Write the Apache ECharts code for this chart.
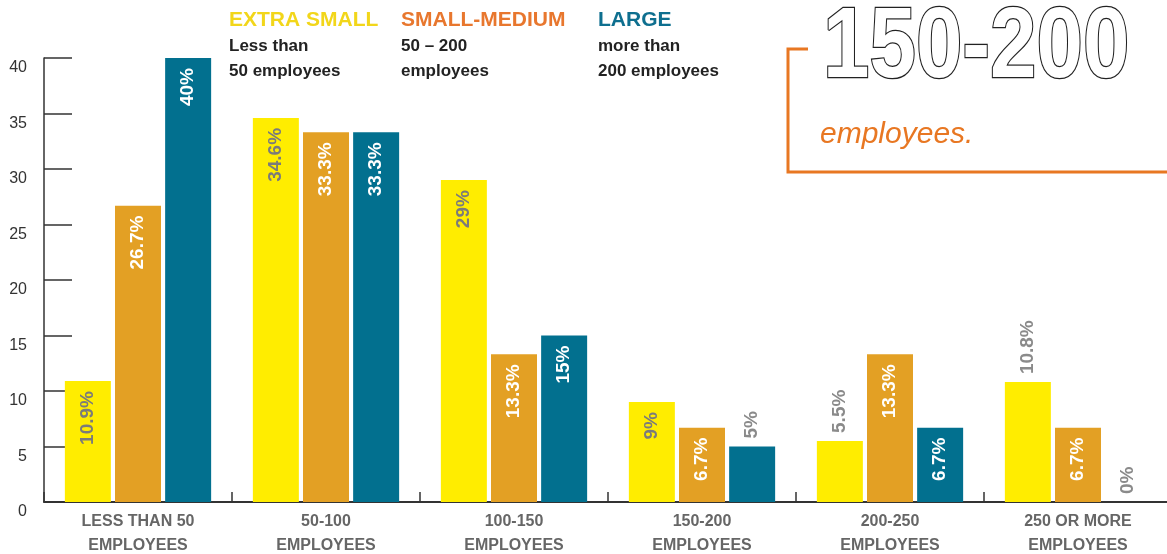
<!DOCTYPE html>
<html>
<head>
<meta charset="utf-8">
<script src="https://cdn.jsdelivr.net/npm/echarts@6/dist/echarts.min.js"></script>
<style>
html,body{margin:0;padding:0;background:#fff;}
#chart{width:1167px;height:554px;}
</style>
</head>
<body>
<div id="chart"></div>
<script>
const categories = ['LESS THAN 50\nEMPLOYEES', '50-100\nEMPLOYEES', '100-150\nEMPLOYEES', '150-200\nEMPLOYEES', '200-250\nEMPLOYEES', '250 OR MORE\nEMPLOYEES'];
const seriesNames = ['EXTRA SMALL', 'SMALL-MEDIUM', 'LARGE'];
const extraSmall = [10.9, 34.6, 29, 9, 5.5, 10.8];
const smallMedium = [26.7, 33.3, 13.3, 6.7, 13.3, 6.7];
const large = [40, 33.3, 15, 5, 6.7, 0];
const legendSub = [['Less than', '50 employees'], ['50 \u2013 200', 'employees'], ['more than', '200 employees']];
const yMax = 40, yInterval = 5;
// labels drawn above the bar instead of inside: [seriesIndex, categoryIndex]
const outsideLabels = [[0, 4], [0, 5], [2, 3], [2, 5]];

const barColors = ['#FFED00', '#E3A024', '#02708F'];
const legendColors = ['#F2D61A', '#E8772E', '#0E6F8F'];
const insideLabelColors = ['#7b7b7b', '#ffffff', '#ffffff'];
const FONT = '"Liberation Sans", Arial, sans-serif';

const allSeries = [extraSmall, smallMedium, large];

function buildData(si, values) {
  return values.map((v, ci) => {
    const out = outsideLabels.some(p => p[0] === si && p[1] === ci);
    if (!out) return { value: v };
    return {
      value: v,
      label: { position: 'top', align: 'left', verticalAlign: 'middle', distance: 8, color: '#8a8a8a' }
    };
  });
}

const chart = echarts.init(document.getElementById('chart'), null, { renderer: 'canvas' });

const graphics = [];
const legendX = [229, 401, 598];
seriesNames.forEach((n, i) => {
  graphics.push({ type: 'text', left: legendX[i], top: 10, style: { text: n, fill: legendColors[i], font: 'bold 21px ' + FONT } });
  graphics.push({ type: 'text', left: legendX[i], top: 38, style: { text: legendSub[i][0], fill: '#222', font: 'bold 17px ' + FONT } });
  graphics.push({ type: 'text', left: legendX[i], top: 63, style: { text: legendSub[i][1], fill: '#222', font: 'bold 17px ' + FONT } });
});
graphics.push({
  type: 'polyline', shape: { points: [[808, 49], [788, 49], [788, 172], [1170, 172]] },
  style: { stroke: '#E87722', lineWidth: 3, fill: null }
});
graphics.push({
  type: 'text', x: 823, y: -1, scaleX: 0.835,
  style: { text: '150-200', font: 'bold 100px ' + FONT, fill: '#fff', stroke: '#222', lineWidth: 2.5, verticalAlign: 'top' }
});
graphics.push({
  type: 'text', x: 820, y: 120,
  style: { text: 'employees.', font: 'italic 30px ' + FONT, fill: '#E87722' }
});

chart.setOption({
  animation: false,
  backgroundColor: '#fff',
  grid: { left: 44, width: 1128, top: 58, bottom: 52, outerBoundsMode: 'none', containLabel: false },
  xAxis: {
    type: 'category',
    data: categories,
    axisLine: { lineStyle: { color: '#333', width: 2 } },
    axisTick: { show: true, inside: true, length: 10, interval: 0, lineStyle: { color: '#333', width: 1.5 } },
    axisLabel: { interval: 0, color: '#666', fontFamily: FONT, fontWeight: 'bold', fontSize: 16, lineHeight: 24, margin: 8 }
  },
  yAxis: {
    type: 'value', min: 0, max: yMax, interval: yInterval,
    splitLine: { show: false },
    axisLine: { show: true, lineStyle: { color: '#333', width: 1.5 } },
    axisTick: { show: true, inside: true, length: 28, lineStyle: { color: '#333', width: 1.5 } },
    axisLabel: { color: '#333', fontFamily: FONT, fontSize: 16, margin: 17, verticalAlign: 'top', padding: [2, 0, 0, 0] }
  },
  series: allSeries.map((vals, si) => ({
    name: seriesNames[si],
    type: 'bar',
    barWidth: 46,
    barGap: '9%',
    itemStyle: { color: barColors[si] },
    label: {
      show: true, position: 'insideTop', rotate: 90, align: 'right', verticalAlign: 'middle', distance: 10,
      formatter: p => p.value + '%', color: insideLabelColors[si],
      fontFamily: FONT, fontSize: 19, fontWeight: 'bold'
    },
    data: buildData(si, vals)
  })),
  graphic: graphics
});
</script>
</body>
</html>
